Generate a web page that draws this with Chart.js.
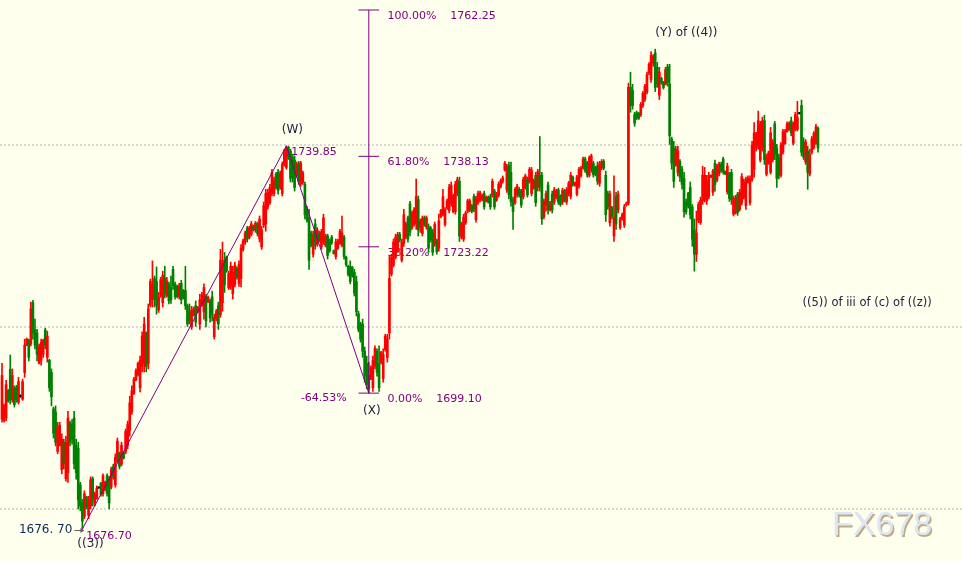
<!DOCTYPE html>
<html><head><meta charset="utf-8">
<script src="https://cdn.jsdelivr.net/npm/chart.js@4.4.0/dist/chart.umd.min.js"></script>
<style>html,body{margin:0;padding:0;background:#ffffee;}#wrap{width:962px;height:561px;position:relative;}canvas{display:block;}</style>
</head><body><div id="wrap"><canvas id="c"></canvas></div>
<script>
// ---- data (candles) ----
const opens=[
1694.8,1694.6,1695.0,1699.5,1703.0,1698.0,1700.0,1700.0,1697.6,1698.6,
1698.1,1702.5,1707.0,1707.8,1707.2,1714.0,1709.5,1709.0,1704.0,1704.5,
1705.5,1709.5,1705.0,1704.5,1702.5,1696.5,1696.0,1689.5,1690.5,1686.5,
1691.0,1685.0,1686.0,1694.2,1694.0,1695.0,1690.5,1690.0,1684.0,1681.0,
1678.8,1682.0,1679.0,1680.5,1685.0,1681.0,1681.7,1683.5,1684.2,1682.5,
1683.2,1685.5,1685.0,1683.6,1687.0,1684.0,1688.0,1689.2,1687.4,1689.3,
1689.4,1690.5,1693.0,1696.0,1699.0,1701.3,1702.2,1700.0,1703.5,1704.0,
1709.0,1704.0,1713.6,1714.5,1718.0,1717.5,1712.8,1715.2,1714.0,1718.0,
1715.2,1717.0,1716.5,1719.5,1717.0,1716.7,1715.0,1717.2,1716.0,1716.0,
1713.5,1712.5,1710.0,1712.0,1713.5,1712.6,1710.5,1713.6,1712.5,1715.0,
1714.2,1714.3,1715.0,1708.4,1711.3,1713.5,1712.0,1714.0,1721.0,1721.5,
1716.5,1716.8,1715.5,1717.0,1719.6,1717.2,1718.0,1722.8,1724.0,1726.3,
1724.7,1725.3,1726.6,1726.0,1727.0,1724.5,1723.2,1726.8,1727.0,1729.8,
1730.5,1732.0,1732.0,1735.2,1735.5,1733.0,1732.0,1736.8,1736.3,1739.6,
1739.0,1738.0,1737.5,1735.0,1737.0,1733.6,1733.8,1733.5,1729.5,1728.0,
1725.5,1722.0,1727.0,1723.6,1725.5,1723.2,1724.0,1723.5,1725.0,1724.2,
1724.8,1722.6,1721.6,1723.0,1723.8,1723.5,1724.8,1721.5,1720.0,1720.0,
1719.8,1719.0,1717.5,1712.2,1710.5,1710.5,1706.0,1704.0,1702.0,1701.5,
1700.0,1703.5,1706.0,1704.0,1704.2,1701.5,1706.3,1705.0,1709.0,1718.7,
1720.2,1721.5,1722.6,1725.3,1721.0,1723.8,1724.8,1728.0,1730.3,1726.4,
1726.9,1727.0,1731.0,1726.4,1725.4,1728.0,1726.5,1726.5,1726.3,1725.5,
1723.7,1724.2,1723.0,1728.2,1728.6,1726.9,1729.6,1729.2,1730.3,1729.0,
1729.0,1732.0,1734.0,1724.8,1724.5,1727.2,1729.1,1729.3,1730.0,1731.5,
1727.7,1730.5,1730.9,1731.1,1732.0,1730.8,1731.4,1731.5,1731.7,1732.4,
1730.9,1731.7,1733.1,1734.0,1735.9,1732.6,1736.7,1735.5,1731.0,1730.5,
1731.8,1732.7,1732.4,1731.5,1733.0,1734.4,1734.0,1732.0,1732.9,1735.0,
1733.0,1735.0,1735.0,1728.2,1730.0,1733.4,1729.3,1731.9,1730.6,1731.4,
1732.6,1731.6,1730.6,1732.4,1730.6,1731.9,1731.5,1734.7,1733.3,1731.9,
1733.2,1734.9,1736.2,1737.7,1737.0,1735.0,1735.9,1737.0,1736.3,1736.6,
1733.7,1736.2,1737.3,1735.0,1732.0,1727.2,1729.7,1725.0,1731.5,1729.3,
1726.4,1727.9,1726.8,1730.2,1730.4,1749.5,1749.0,1745.0,1745.3,1745.2,
1745.0,1746.5,1747.5,1748.7,1751.9,1750.8,1753.5,1755.2,1752.8,1748.2,
1751.0,1750.4,1750.0,1752.9,1750.0,1741.0,1739.5,1736.8,1735.4,1737.3,
1736.0,1734.5,1730.6,1732.0,1733.0,1729.8,1726.0,1722.0,1727.5,1727.2,
1730.8,1731.0,1730.8,1731.5,1734.7,1732.2,1737.0,1734.2,1735.2,1736.8,
1737.7,1735.7,1732.3,1735.3,1735.5,1728.6,1728.8,1731.9,1729.4,1730.5,
1731.4,1730.0,1733.8,1730.5,1734.3,1736.0,1739.5,1739.8,1737.5,1739.5,
1744.0,1735.2,1737.0,1735.5,1737.5,1743.5,1739.5,1738.0,1735.0,1738.8,
1740.2,1742.2,1742.5,1744.0,1740.3,1742.5,1742.6,1745.2,1746.5,1740.5,
1737.2,1739.0,1735.2,1738.8,1739.6,1740.3,1742.8];
const highs=[
1704.0,1697.3,1701.2,1699.7,1705.4,1703.1,1700.3,1700.4,1701.7,1698.8,
1701.4,1708.0,1708.2,1708.0,1714.1,1714.4,1711.3,1709.6,1707.2,1708.0,
1708.0,1709.8,1709.3,1704.7,1703.1,1696.8,1697.0,1694.3,1694.3,1692.4,
1691.5,1692.0,1696.1,1694.5,1694.8,1696.1,1691.5,1691.0,1684.4,1681.6,
1683.0,1682.1,1682.1,1685.3,1685.3,1682.8,1683.8,1683.6,1684.4,1685.8,
1684.6,1685.8,1685.4,1686.9,1687.4,1689.1,1691.7,1689.4,1691.0,1689.4,
1693.2,1694.5,1698.6,1700.3,1701.7,1703.1,1704.2,1705.2,1709.2,1711.6,
1709.2,1713.8,1717.9,1720.9,1718.4,1719.9,1715.7,1718.2,1719.2,1720.0,
1718.2,1717.4,1718.4,1720.0,1717.4,1716.9,1717.2,1717.7,1716.2,1720.0,
1713.8,1713.8,1713.4,1713.3,1714.3,1713.4,1715.4,1715.7,1717.1,1715.4,
1715.1,1714.6,1715.9,1712.1,1712.9,1714.1,1722.8,1724.0,1722.3,1721.7,
1719.2,1720.7,1720.0,1720.7,1719.9,1720.9,1723.6,1724.5,1725.8,1726.6,
1726.6,1727.4,1726.8,1727.4,1727.3,1728.3,1726.6,1730.6,1732.7,1732.7,
1733.5,1736.0,1734.7,1735.5,1736.0,1735.7,1737.2,1739.3,1739.85,1739.8,
1739.3,1738.5,1738.2,1737.2,1737.3,1737.3,1735.7,1733.9,1729.9,1729.4,
1725.8,1725.8,1727.8,1726.4,1725.8,1726.1,1728.6,1725.3,1725.3,1724.5,
1725.1,1722.7,1724.5,1724.5,1726.1,1728.3,1725.1,1721.7,1720.2,1720.9,
1720.0,1719.5,1718.4,1712.6,1710.8,1711.3,1706.7,1705.2,1704.2,1703.6,
1705.2,1706.9,1706.4,1706.9,1706.0,1706.4,1708.8,1708.8,1721.7,1722.0,
1724.5,1725.3,1725.6,1725.6,1724.5,1729.4,1727.3,1728.3,1730.7,1729.1,
1729.7,1734.4,1731.6,1727.8,1728.3,1728.3,1728.3,1727.0,1726.6,1726.1,
1727.3,1724.5,1728.6,1729.4,1732.7,1729.7,1731.1,1733.5,1733.9,1731.9,
1734.0,1734.7,1734.7,1727.3,1728.6,1729.1,1731.1,1731.1,1730.2,1731.9,
1731.6,1732.4,1732.4,1731.9,1732.4,1731.6,1731.6,1731.9,1734.4,1732.7,
1732.2,1733.9,1734.4,1734.9,1737.3,1736.8,1737.2,1737.2,1731.4,1733.0,
1733.5,1733.0,1732.7,1734.7,1735.2,1734.7,1736.3,1736.3,1734.4,1735.5,
1736.0,1741.4,1735.5,1731.1,1732.4,1733.9,1730.7,1732.4,1733.0,1732.7,
1732.9,1731.8,1732.9,1732.7,1733.0,1734.0,1735.5,1734.9,1733.9,1735.0,
1736.3,1736.5,1738.0,1738.0,1737.3,1738.2,1738.5,1737.3,1736.5,1737.2,
1737.3,1737.6,1737.6,1735.7,1732.4,1732.4,1729.9,1734.9,1732.2,1732.4,
1728.1,1728.8,1730.2,1730.6,1750.2,1752.0,1750.0,1745.4,1745.6,1745.4,
1747.0,1748.8,1750.0,1752.0,1753.6,1755.4,1754.9,1755.8,1753.6,1752.8,
1751.2,1750.5,1752.8,1753.3,1753.3,1741.3,1740.6,1739.8,1739.8,1737.6,
1736.5,1735.5,1731.1,1732.2,1733.9,1730.2,1727.8,1729.1,1730.6,1731.4,
1736.5,1736.3,1735.0,1735.5,1735.1,1736.0,1737.5,1736.8,1737.2,1737.2,
1738.0,1735.7,1737.0,1735.5,1736.0,1731.6,1731.7,1732.2,1732.7,1735.3,
1734.4,1734.7,1734.9,1734.9,1740.6,1743.7,1742.1,1745.6,1743.9,1744.6,
1744.9,1738.5,1739.0,1742.9,1740.9,1743.9,1740.1,1738.5,1740.4,1742.6,
1742.6,1743.8,1743.8,1744.6,1743.8,1745.4,1747.2,1745.3,1747.4,1741.2,
1740.9,1739.8,1739.3,1741.4,1742.2,1743.4,1743.0];
const lows=[
1694.3,1694.3,1694.5,1697.6,1697.3,1697.6,1696.8,1697.6,1697.3,1698.4,
1697.9,1701.7,1706.9,1704.4,1706.9,1708.0,1706.4,1704.4,1703.9,1703.7,
1705.0,1706.4,1704.2,1699.4,1697.0,1691.7,1690.4,1689.1,1690.4,1685.8,
1686.6,1684.6,1684.4,1690.4,1690.7,1686.6,1684.9,1680.0,1679.7,1676.7,
1678.4,1680.0,1678.4,1680.0,1680.5,1680.5,1681.6,1683.4,1682.1,1682.1,
1683.0,1682.1,1680.0,1683.3,1684.9,1683.6,1687.7,1686.6,1687.1,1688.2,
1689.1,1689.9,1692.0,1695.6,1698.9,1701.1,1701.9,1699.3,1702.6,1702.6,
1702.6,1703.1,1713.3,1713.3,1713.3,1712.1,1712.4,1714.9,1713.3,1714.8,
1714.9,1713.8,1713.9,1716.2,1714.6,1714.8,1714.6,1713.8,1714.6,1712.9,
1710.1,1710.5,1709.6,1711.8,1710.1,1712.4,1709.6,1713.4,1711.3,1710.0,
1714.0,1710.8,1711.0,1708.0,1711.0,1709.6,1711.6,1712.6,1715.7,1719.0,
1716.2,1716.2,1714.6,1716.6,1717.9,1716.7,1716.6,1722.5,1723.6,1724.0,
1724.5,1725.0,1725.8,1725.6,1725.0,1724.0,1722.8,1726.4,1725.8,1729.4,
1730.2,1731.6,1731.6,1732.7,1731.9,1732.7,1731.6,1736.5,1736.0,1737.6,
1733.9,1733.9,1732.4,1734.7,1733.5,1733.2,1733.5,1727.8,1727.3,1719.5,
1723.2,1721.5,1722.8,1723.3,1724.0,1722.8,1723.6,1723.2,1721.2,1722.3,
1723.6,1722.0,1721.2,1722.8,1723.6,1723.2,1721.2,1720.0,1718.4,1717.1,
1718.2,1715.1,1711.8,1709.2,1707.5,1705.0,1700.9,1699.8,1699.1,1701.3,
1699.4,1703.1,1701.9,1699.4,1703.9,1700.9,1706.0,1704.2,1708.0,1718.4,
1719.9,1721.2,1722.3,1724.0,1720.7,1723.3,1724.5,1724.0,1725.0,1726.1,
1726.6,1726.1,1725.0,1725.6,1725.0,1726.6,1726.1,1722.3,1724.0,1721.8,
1723.3,1722.0,1722.5,1728.0,1728.3,1726.6,1729.4,1728.8,1729.9,1728.8,
1728.6,1731.6,1724.1,1724.5,1724.1,1726.9,1728.8,1729.0,1728.8,1729.0,
1727.3,1730.2,1730.6,1730.8,1729.4,1730.6,1730.4,1729.4,1731.4,1729.4,
1730.7,1731.4,1732.9,1733.7,1735.7,1732.2,1731.1,1729.9,1726.1,1730.2,
1731.4,1731.4,1729.7,1731.1,1732.7,1731.4,1733.7,1731.6,1732.7,1729.9,
1732.4,1732.4,1726.9,1727.8,1729.1,1728.6,1729.1,1728.8,1730.2,1731.1,
1730.2,1729.9,1730.2,1730.6,1730.2,1731.6,1731.1,1733.2,1733.2,1731.6,
1732.9,1734.7,1736.0,1735.5,1734.7,1734.7,1735.5,1734.7,1734.9,1733.5,
1733.2,1735.9,1735.9,1727.4,1729.4,1726.6,1727.8,1724.1,1726.1,1728.8,
1726.1,1727.6,1726.4,1729.9,1730.1,1745.4,1745.9,1743.1,1744.2,1744.2,
1744.7,1746.2,1747.2,1748.4,1751.6,1750.3,1753.0,1748.8,1749.5,1747.5,
1750.0,1749.2,1749.9,1749.7,1740.1,1736.0,1733.0,1736.5,1734.9,1734.0,
1732.7,1728.1,1728.6,1729.6,1727.8,1723.3,1719.2,1720.8,1727.2,1726.9,
1730.2,1730.6,1730.2,1731.1,1734.6,1731.7,1732.4,1733.9,1734.9,1735.5,
1735.2,1735.1,1731.9,1730.7,1730.2,1728.3,1728.6,1728.4,1729.1,1730.1,
1731.1,1729.4,1733.7,1730.1,1734.0,1734.7,1739.0,1739.3,1737.2,1739.0,
1736.8,1734.9,1736.8,1735.2,1737.2,1737.6,1733.0,1734.4,1734.7,1738.5,
1740.1,1742.1,1742.4,1741.5,1740.0,1742.3,1742.3,1745.1,1738.2,1737.6,
1736.8,1732.7,1734.9,1738.5,1739.3,1740.1,1738.8];
const closes=[
1702.0,1697.0,1700.5,1697.8,1698.0,1702.0,1697.2,1698.0,1701.0,1698.6,
1701.0,1707.0,1708.0,1705.0,1713.0,1709.0,1707.0,1705.5,1706.8,1707.5,
1707.8,1707.0,1708.5,1700.0,1698.5,1692.5,1691.0,1693.5,1693.8,1691.5,
1687.5,1691.0,1695.0,1691.0,1691.5,1687.5,1686.0,1681.5,1680.5,1678.0,
1682.5,1680.3,1681.5,1684.8,1681.5,1682.5,1683.4,1683.5,1682.4,1685.5,
1684.4,1682.5,1681.0,1686.5,1685.4,1688.5,1691.2,1687.0,1690.5,1688.4,
1692.8,1694.0,1697.5,1699.5,1701.4,1702.8,1704.0,1704.5,1708.5,1710.5,
1703.5,1713.0,1717.5,1717.0,1714.5,1713.5,1715.0,1717.8,1718.5,1715.5,
1717.6,1714.3,1714.5,1716.8,1715.0,1715.0,1716.8,1714.5,1714.8,1713.5,
1710.5,1711.0,1712.8,1713.0,1710.8,1713.2,1714.5,1715.3,1716.5,1711.0,
1714.9,1711.5,1712.0,1711.6,1712.6,1710.5,1721.0,1720.5,1717.0,1719.3,
1718.8,1720.0,1719.0,1720.2,1718.2,1720.3,1723.0,1724.2,1725.5,1724.5,
1726.3,1727.0,1726.0,1727.1,1725.4,1727.8,1726.0,1730.0,1732.0,1732.2,
1733.0,1735.5,1734.2,1733.0,1732.5,1735.3,1736.8,1739.0,1739.5,1738.0,
1734.5,1734.5,1733.0,1736.8,1734.0,1737.0,1735.4,1728.5,1727.6,1721.0,
1723.5,1725.2,1723.5,1726.0,1724.3,1725.7,1728.0,1725.0,1721.8,1722.6,
1723.9,1722.1,1724.0,1724.2,1725.8,1725.5,1721.6,1720.3,1718.7,1717.5,
1718.5,1715.6,1712.5,1709.6,1708.0,1706.0,1702.0,1700.5,1699.8,1703.3,
1704.5,1706.5,1702.5,1700.0,1705.8,1705.5,1708.5,1708.0,1718.0,1721.5,
1724.0,1724.8,1725.2,1724.3,1724.0,1728.5,1727.0,1724.5,1725.6,1728.8,
1729.4,1731.5,1726.0,1727.5,1727.9,1726.9,1728.0,1723.0,1724.4,1722.3,
1726.9,1722.4,1727.5,1729.2,1731.5,1729.3,1730.8,1733.0,1733.4,1731.6,
1733.5,1734.3,1725.0,1727.0,1728.1,1728.8,1730.8,1730.8,1729.1,1729.4,
1731.2,1732.0,1732.1,1731.6,1729.8,1731.4,1730.6,1729.8,1734.0,1729.8,
1731.9,1733.5,1734.1,1734.6,1737.0,1736.4,1731.8,1730.6,1729.0,1732.7,
1733.2,1731.7,1730.1,1734.3,1734.9,1731.8,1736.0,1735.8,1734.1,1730.5,
1735.6,1733.2,1727.8,1730.7,1732.0,1729.3,1730.4,1729.3,1732.6,1732.4,
1730.6,1730.2,1732.5,1730.9,1732.6,1733.7,1735.0,1733.5,1733.8,1734.7,
1736.0,1736.2,1737.7,1735.8,1735.1,1737.9,1738.2,1735.1,1735.2,1734.0,
1736.9,1737.3,1736.2,1728.5,1729.8,1731.9,1728.2,1728.0,1727.0,1731.9,
1727.8,1728.5,1729.8,1730.4,1749.5,1746.5,1746.5,1743.6,1744.5,1744.4,
1746.7,1748.5,1749.7,1751.6,1753.3,1754.8,1754.6,1749.5,1750.0,1752.0,
1750.3,1749.5,1752.4,1750.2,1741.5,1737.0,1734.0,1739.3,1739.0,1734.7,
1733.5,1729.0,1729.0,1730.0,1728.5,1724.5,1722.0,1725.5,1730.2,1730.9,
1735.0,1735.0,1734.0,1735.0,1735.0,1735.7,1733.5,1736.5,1736.9,1735.8,
1735.6,1735.2,1736.5,1731.2,1731.0,1731.2,1731.3,1728.9,1732.2,1734.8,
1734.0,1734.3,1734.6,1734.4,1740.0,1742.0,1741.8,1744.0,1743.4,1744.0,
1737.6,1738.0,1738.7,1742.0,1740.5,1738.5,1734.5,1735.0,1740.0,1742.2,
1742.3,1743.5,1743.6,1742.0,1743.5,1745.0,1744.5,1745.2,1738.8,1738.0,
1740.5,1735.5,1738.5,1741.0,1741.9,1743.0,1739.5];

const gridLevels=[1740,1710,1680];
const zigzagIdx=[39,138,178];
const zigzagPrice=[1676.70,1739.85,1699.10];
const fibIdx=178;
const fibPct=['100.00%','61.80%','38.20%','0.00%'];
const fibPrice=[1762.25,1738.13,1723.22,1699.10];
const labels=[
 {t:'(W)',i:138,p:1739.85,dx:6,dy:-16,a:'center',k:'wave'},
 {t:'1739.85',i:138,p:1739.85,dx:5,dy:6,a:'left',k:'num'},
 {t:'(X)',i:178,p:1699.10,dx:3,dy:18,a:'center',k:'wave'},
 {t:'-64.53%',i:178,p:1699.10,dx:-22,dy:5,a:'right',k:'num'},
 {t:'(Y) of ((4))',i:317,p:1755.8,dx:0,dy:-16,a:'left',k:'wave'},
 {t:'((3))',i:39,p:1676.70,dx:-5,dy:15,a:'left',k:'wave'},
 {t:'1676.70',i:39,p:1676.70,dx:4,dy:7,a:'left',k:'num'},
 {t:'1676. 70',i:39,p:1676.70,dx:-10,dy:1,a:'right',k:'price'},
 {t:'((5)) of iii of (c) of ((z))',i:388,p:1714.0,dx:1,dy:0,a:'left',k:'wave2'}
];

// ---- layout ----
const N=opens.length;
const pxPerBar=(818-2)/(N-1);
const xMin=-2/pxPerBar, xMax=xMin+962/pxPerBar;
const yMax=1763.90, yMin=1671.43;
const PURPLE='#800080';
const colors=opens.map((o,i)=>closes[i]>o?'#ff0000':(closes[i]<o?'#008000':'#000000'));

const datasets=[];
gridLevels.forEach(g=>datasets.push({type:'line',data:[{x:xMin,y:g},{x:xMax,y:g}],borderColor:'#b4b4b4',borderWidth:1,borderDash:[2,2],pointRadius:0,order:10}));
datasets.push({type:'bar',data:opens.map((o,i)=>({x:i,y:[lows[i],highs[i]]})),backgroundColor:colors,barThickness:1,grouped:false,order:5});
datasets.push({type:'bar',data:opens.map((o,i)=>({x:i,y:[o,closes[i]]})),backgroundColor:colors,barThickness:2,minBarLength:1,grouped:false,order:4});
datasets.push({type:'line',data:zigzagIdx.map((x,j)=>({x:x,y:zigzagPrice[j]})),borderColor:PURPLE,borderWidth:1,pointRadius:0,tension:0,order:1});
datasets.push({type:'line',data:[{x:fibIdx,y:fibPrice[3]},{x:fibIdx,y:fibPrice[0]}],borderColor:PURPLE,borderWidth:1,pointRadius:0,order:1});
fibPrice.forEach(p=>datasets.push({type:'line',data:[{x:fibIdx-5,y:p},{x:fibIdx+5,y:p}],borderColor:PURPLE,borderWidth:1,pointRadius:0,order:1}));

const textPlugin={id:'texts',
 beforeDatasetsDraw(chart){
  const ctx=chart.ctx,xs=chart.scales.x,ys=chart.scales.y;
  ctx.save();ctx.textBaseline='middle';
  const fx=xs.getPixelForValue(fibIdx);
  ctx.font='11px "DejaVu Sans"';ctx.fillStyle=PURPLE;ctx.textAlign='left';
  fibPrice.forEach((p,j)=>{ctx.fillText(fibPct[j]+'    '+p.toFixed(2),fx+18.6,ys.getPixelForValue(p)+6);});
  labels.forEach(L=>{
   const x=xs.getPixelForValue(L.i)+L.dx,y=ys.getPixelForValue(L.p)+L.dy;
   if(L.k==='wave'){ctx.font='12px "DejaVu Sans"';ctx.fillStyle='#22223f';}
   else if(L.k==='wave2'){ctx.font='11.5px "DejaVu Sans"';ctx.fillStyle='#22223f';}
   else if(L.k==='price'){ctx.font='12px "DejaVu Sans"';ctx.fillStyle='#0c2a55';}
   else {ctx.font='11px "DejaVu Sans"';ctx.fillStyle=PURPLE;}
   ctx.textAlign=L.a;ctx.fillText(L.t,x,y);
   if(L.k==='price'){
    const ax0=x+2,ax1=xs.getPixelForValue(L.i)+1;
    ctx.strokeStyle='#606060';ctx.lineWidth=1;ctx.beginPath();ctx.moveTo(ax0,y+0.5);ctx.lineTo(ax1,y+0.5);ctx.stroke();
    ctx.fillStyle='#606060';ctx.beginPath();ctx.moveTo(ax1+1,y+0.5);ctx.lineTo(ax1-3,y-2);ctx.lineTo(ax1-3,y+3);ctx.closePath();ctx.fill();
   }
  });
  ctx.restore();
 },
 afterDraw(chart){
  const ctx=chart.ctx;ctx.save();
  ctx.font='34px "Liberation Sans"';ctx.textBaseline='middle';ctx.textAlign='left';
  ctx.fillStyle='rgba(170,140,100,0.75)';ctx.fillText('FX678',833.5,527.5);
  ctx.fillStyle='#dde6f3';ctx.fillText('FX678',832,526);
  ctx.restore();
 }
};

new Chart(document.getElementById('c'),{
 type:'bar',
 data:{datasets:datasets},
 options:{responsive:true,maintainAspectRatio:false,animation:false,events:[],
  layout:{padding:0},
  plugins:{legend:{display:false},tooltip:{enabled:false}},
  scales:{
   x:{type:'linear',min:xMin,max:xMax,display:false,offset:false,grid:{display:false}},
   y:{type:'linear',min:yMin,max:yMax,display:false,grid:{display:false}}
  }},
 plugins:[textPlugin]
});
</script></body></html>
